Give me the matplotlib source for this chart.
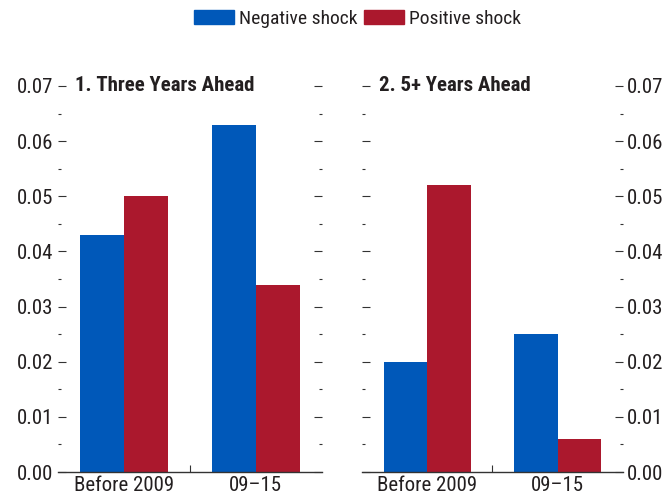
import matplotlib
matplotlib.use("Agg")
import matplotlib.pyplot as plt
import numpy as np
from matplotlib.patches import Patch
from matplotlib.ticker import FixedLocator, FormatStrFormatter

categories = ["Before 2009", "09\u201315"]
series_names = ["Negative shock", "Positive shock"]
three_neg = [0.043, 0.063]
three_pos = [0.050, 0.034]
five_neg = [0.020, 0.025]
five_pos = [0.052, 0.006]
panel_titles = ["1. Three Years Ahead", "2. 5+ Years Ahead"]

blue = "#0058B9"
red = "#AB182D"
plt.rcParams['font.family'] = ["Roboto Condensed", "DejaVu Sans"]
txt = '#231F20'

fig = plt.figure(figsize=(6.65, 4.99), dpi=100)
ax1 = fig.add_axes([0.087, 0.054, 0.397, 0.829])
ax2 = fig.add_axes([0.544, 0.054, 0.393, 0.829])

w = 1/3
x = np.arange(len(categories))
for ax, neg, pos, title, side in [(ax1, three_neg, three_pos, panel_titles[0], 'left'),
                                  (ax2, five_neg, five_pos, panel_titles[1], 'right')]:
    ax.bar(x - w/2, neg, width=w, color=blue)
    ax.bar(x + w/2, pos, width=w, color=red)
    ax.set_xlim(-0.5, 1.5)
    ax.set_ylim(0, 0.075)
    for s in ['top', 'left', 'right']:
        ax.spines[s].set_visible(False)
    ax.spines['bottom'].set_color('#333333')
    ax.spines['bottom'].set_linewidth(1.0)
    ax.yaxis.set_major_locator(FixedLocator(np.arange(0, 0.0701, 0.01)))
    ax.yaxis.set_minor_locator(FixedLocator(np.arange(0.005, 0.07, 0.01)))
    ax.tick_params(axis='y', which='major', direction='in', length=6, width=0.8,
                   left=True, right=True, labelleft=(side == 'left'),
                   labelright=(side == 'right'), labelsize=15, pad=3,
                   color='#333333', labelcolor=txt)
    ax.tick_params(axis='y', which='minor', direction='in', length=2.5, width=0.8,
                   left=True, right=True, color='#333333')
    ax.yaxis.set_major_formatter(FormatStrFormatter('%.2f'))
    ax.set_xticks(x)
    ax.set_xticklabels(categories)
    ax.set_xticks([0.5], minor=True)
    ax.tick_params(axis='x', which='major', length=0, labelsize=15, pad=3, labelcolor=txt)
    ax.tick_params(axis='x', which='minor', direction='in', length=5, width=0.8, color='#333333')
    ax.text(-0.37, 0.07, title, fontsize=15, fontweight='bold', va='center', ha='left',
            color=txt)

handles = [Patch(color=blue, label=series_names[0]), Patch(color=red, label=series_names[1])]
fig.legend(handles=handles, loc='center', bbox_to_anchor=(0.538, 0.962), ncol=2,
           frameon=False, fontsize=14, handlelength=2.05, handleheight=0.75,
           handletextpad=0.25, columnspacing=0.35, labelcolor=txt)

fig.savefig("out.png", dpi=100)
